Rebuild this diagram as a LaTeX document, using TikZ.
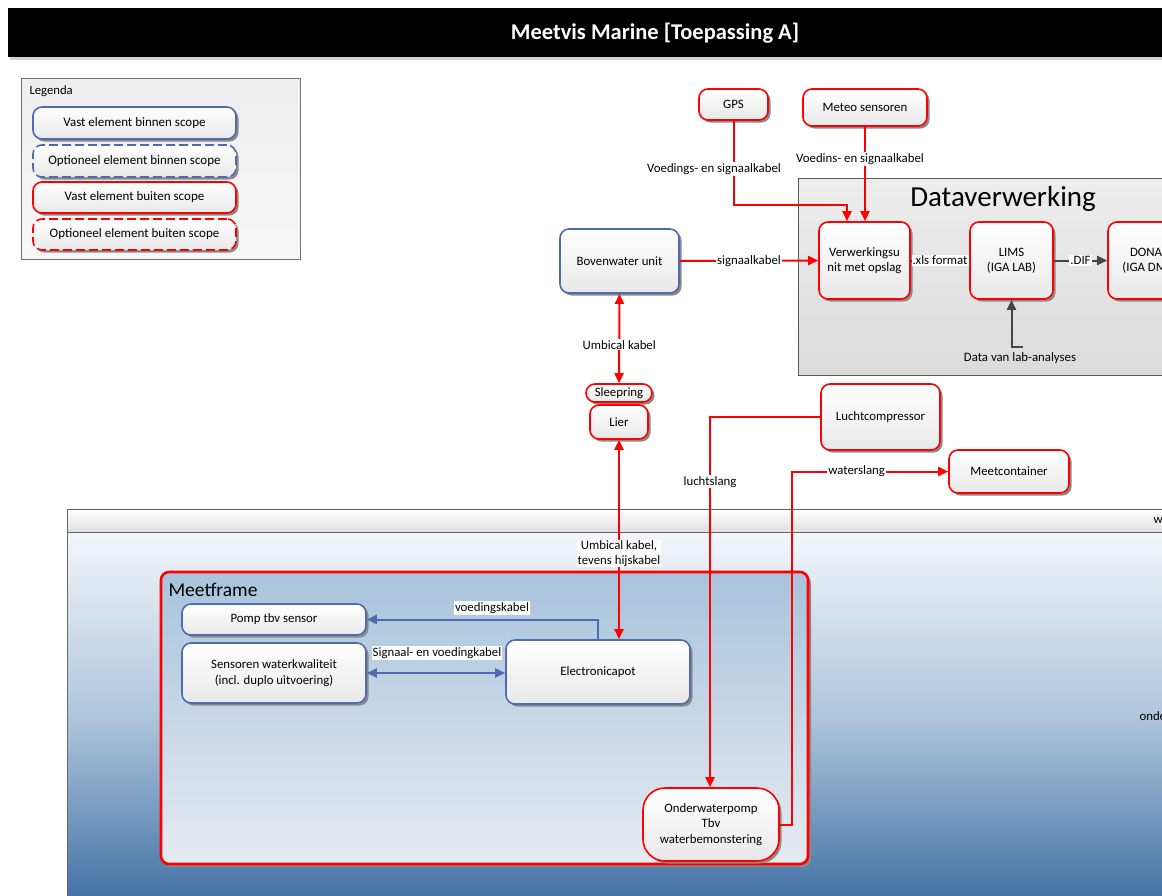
\documentclass[tikz,border=0pt]{standalone}
\usepackage{fontspec}
\setmainfont{Carlito}
\usetikzlibrary{arrows.meta,shadows,calc}

\definecolor{scopeblue}{HTML}{4F6BB0}
\definecolor{outred}{HTML}{FF0000}
\definecolor{flowgray}{HTML}{454545}
\definecolor{shadowgray}{HTML}{8A8A8A}
\definecolor{waterA}{HTML}{4371A5}
\definecolor{waterB}{HTML}{7C9EC3}
\definecolor{waterC}{HTML}{AFC5DC}
\definecolor{waterD}{HTML}{F2F6FA}
\definecolor{frametop}{HTML}{A8C3DC}
\definecolor{framebot}{HTML}{E6EBF1}

\pgfdeclareverticalshading{waterfade}{100bp}{%
  color(0bp)=(waterA); color(25bp)=(waterA); color(38bp)=(waterB);
  color(50bp)=(waterC); color(75bp)=(waterD); color(100bp)=(waterD)}

\tikzset{
  txt/.style={font=\fontsize{12.8}{15.5}\selectfont, align=center},
  box/.style={txt, rounded corners=9pt, line width=1.6pt, inner sep=1pt,
    top color=white, bottom color=black!9,
    drop shadow={shadow xshift=2.5pt, shadow yshift=-2.5pt, fill=shadowgray, opacity=1}},
  inbox/.style={box, draw=scopeblue},
  outbox/.style={box, draw=outred},
  legbox/.style={font=\fontsize{13}{15.5}\selectfont},
  lbl/.style={txt, fill=white, inner sep=1pt},
  redline/.style={draw=outred, line width=2pt},
  redarrow/.style={redline, -{Triangle[length=10pt,width=9pt]}},
  redboth/.style={redline, {Triangle[length=10pt,width=9pt]}-{Triangle[length=10pt,width=9pt]}},
  bluearrow/.style={draw=scopeblue, line width=2pt, -{Triangle[length=10pt,width=9pt]}},
  blueboth/.style={draw=scopeblue, line width=2pt, {Triangle[length=10pt,width=9pt]}-{Triangle[length=10pt,width=9pt]}},
  grayline/.style={draw=flowgray, line width=2pt},
  grayarrow/.style={grayline, -{Triangle[length=10pt,width=9pt]}},
}

\begin{document}
\begin{tikzpicture}[x=1pt,y=-1pt]
\useasboundingbox (0,0) rectangle (1162,895);
\clip (0,0) rectangle (1162,895);
\fill[white] (0,0) rectangle (1162,895);

% title bar
\fill[black!18] (10,57) rectangle (1170,60);
\fill[black] (8,8) rectangle (1170,57);
\node[text=white, font=\bfseries\fontsize{22.5}{26}\selectfont] (title) at (655,33) {Meetvis Marine [Toepassing A]};

% legend
\draw[black!55, top color=black!7, bottom color=black!3] (21,78) rectangle (300,259);
\node[anchor=west, font=\fontsize{12.7}{15}\selectfont] (legtitle) at (26,91) {Legenda};
\node[inbox, legbox, minimum width=203pt, minimum height=32pt] (leg1) at (134.5,123) {Vast element binnen scope};
\node[inbox, legbox, dash pattern=on 9pt off 4pt, minimum width=203pt, minimum height=32pt] (leg2) at (134.5,161) {Optioneel element binnen scope};
\node[outbox, legbox, minimum width=203pt, minimum height=31pt] (leg3) at (134.5,197.5) {Vast element buiten scope};
\node[outbox, legbox, dash pattern=on 9pt off 4pt, minimum width=203pt, minimum height=31pt] (leg4) at (134.5,234.5) {Optioneel element buiten scope};

% water surface and water body
\shade[shading=waterfade] (67,532) rectangle (1170,900);
\draw[black!60] (67,900) -- (67,532);
\draw[black!60, top color=white, bottom color=black!12] (67,509) rectangle (1170,532);
\node[anchor=west, txt] (surf) at (1150,520) {waterlijn};
\node[anchor=west, txt] (under) at (1136,716) {onderwater};

% data processing area
\draw[black!65, line width=0.8pt, top color=black!7, bottom color=black!14] (798,178) rectangle (1170,375);
\node[font=\fontsize{29}{33}\selectfont] (dvtitle) at (1003,199) {Dataverwerking};

% measuring frame
\fill[shadowgray] (164,575) [rounded corners=8pt] rectangle (811,867);
\draw[outred, line width=2.6pt, rounded corners=8pt, top color=frametop, bottom color=framebot] (161,572) rectangle (808,864);
\node[anchor=west, font=\fontsize{19.5}{22}\selectfont] (mftitle) at (165,590) {Meetframe};

% elements above water
\node[outbox, minimum width=69pt, minimum height=31pt] (gps) at (733.5,104.5) {GPS};
\node[outbox, minimum width=124pt, minimum height=37pt] (meteo) at (865,107.5) {Meteo sensoren};
\node[inbox, minimum width=119pt, minimum height=64pt] (bov) at (619.5,261) {Bovenwater unit};
\node[outbox, minimum width=91pt, minimum height=77pt] (verw) at (864.5,260.5) {Verwerkingsu\\nit met opslag};
\node[outbox, minimum width=83pt, minimum height=77pt] (lims) at (1011.5,260.5) {LIMS\\(IGA LAB)};
\node[outbox, minimum width=83pt, minimum height=77pt] (dona) at (1149.5,260.5) {DONAR\\(IGA DMS)};
\node[txt] (labdata) at (1020,358) {Data van lab-analyses};
\node[outbox, rounded corners=9pt, minimum width=66pt, minimum height=18pt] (sleep) at (619,393) {Sleepring};
\node[outbox, minimum width=58pt, minimum height=34pt] (lier) at (619,422) {Lier};
\node[outbox, minimum width=119pt, minimum height=66pt] (lucht) at (880.5,417) {Luchtcompressor};
\node[outbox, minimum width=120pt, minimum height=43pt] (meetc) at (1009,471.5) {Meetcontainer};

% elements in the frame
\node[inbox, minimum width=184pt, minimum height=31pt] (pomp) at (274,619.5) {Pomp tbv sensor};
\node[inbox, minimum width=184pt, minimum height=60pt] (sens) at (274,673) {Sensoren waterkwaliteit\\(incl. duplo uitvoering)};
\node[inbox, minimum width=184pt, minimum height=64pt] (elec) at (598,672) {Electronicapot};
\node[outbox, rounded corners=22pt, minimum width=136pt, minimum height=73pt] (onder) at (711,824.5) {Onderwaterpomp\\Tbv\\waterbemonstering};

% connectors: sensors to processing unit
\coordinate (gpsjog) at (847,205);
\draw[redarrow] (gps.south) |- (gpsjog) -- (gpsjog |- verw.north);
\node[lbl] (gpslbl) at (714,169) {Voedings- en signaalkabel};
\draw[redarrow] (meteo.south) -- (meteo.south |- verw.north);
\node[lbl] (meteolbl) at (860,159) {Voedins- en signaalkabel};
\draw[redarrow] (bov.east) -- (verw.west) node[lbl, midway] (siglbl) {signaalkabel};

% processing chain
\draw[grayline] (verw.east) -- (lims.west) node[lbl, midway] (xlslbl) {.xls format};
\draw[grayarrow] (lims.east) -- (dona.west) node[lbl, midway] (diflbl) {.DIF};
\coordinate (labjog) at (1023,347);
\draw[grayarrow] (labjog) -| (lims.south);

% cables
\draw[redboth] (bov.south) -- (sleep.north) node[lbl, pos=0.57] (umb1) {Umbical kabel};
\draw[redboth] (lier.south) -- (lier.south |- elec.north) node[lbl, pos=0.57, font=\fontsize{12.8}{14.5}\selectfont] (umb2) {Umbical kabel,\\tevens hijskabel};
\coordinate (luchtcol) at (710,417);
\draw[redarrow] (lucht.west) -- (luchtcol) -- (luchtcol |- onder.north) node[lbl, pos=0.175] (luchtlbl) {luchtslang};
\coordinate (watercol) at (792,824.5);
\draw[redarrow] (onder.east) -- (watercol) |- (meetc.west) node[lbl, pos=0.707] (waterlbl) {waterslang};

% frame internal wiring
\draw[bluearrow] (elec.north) |- (pomp.east);
\node[lbl] (voedlbl) at (492,608) {voedingskabel};
\draw[blueboth] (sens.east) -- (elec.west |- sens.east);
\node[lbl] (sigvlbl) at (437,653) {Signaal- en voedingkabel};
\end{tikzpicture}
\end{document}
